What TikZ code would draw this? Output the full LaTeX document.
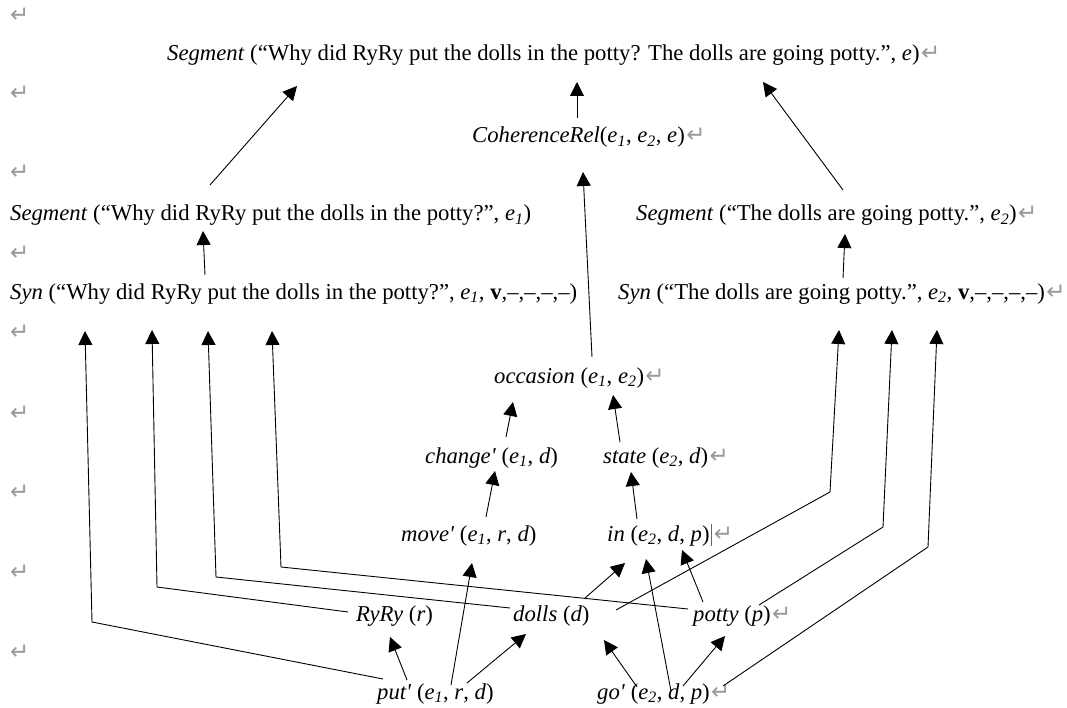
\documentclass[tikz,border=0pt]{standalone}
\usepackage{fontspec}
\setmainfont{Liberation Serif}
\newfontfamily\djv{DejaVu Sans}
\usetikzlibrary{arrows.meta,calc}
\newcommand\ei[1]{\textit{e}\textsubscript{\textit{#1}}}
\newcommand\pr{\textquotesingle}
\begin{document}
\begin{tikzpicture}[x=1pt,y=-1pt,
  lbl/.style={inner sep=0pt, anchor=base west, font=\fontsize{22.7}{26}\selectfont},
  arr/.style={-{Triangle[width=14pt,length=14pt]}, line width=0.9pt},
  pm/.style={inner sep=0pt, anchor=base west, text=black!40, font=\djv\fontsize{23}{23}\selectfont}]
\useasboundingbox[fill=white] (0,0) rectangle (1067,708);
% texts
\node[lbl] (top) at (167,61) {\textit{Segment} (“Why did RyRy put the dolls in the potty? The dolls are going potty.”, \textit{e})};
\node[lbl] (coh) at (472,143) {\textit{CoherenceRel}(\ei1, \ei2, \textit{e})};
\node[lbl] (seg1) at (10,221) {\textit{Segment} (“Why did RyRy put the dolls in the potty?”, \ei1)};
\node[lbl] (seg2) at (636,221) {\textit{Segment} (“The dolls are going potty.”, \ei2)};
\node[lbl] (syn1) at (10,299) {\textit{Syn} (“Why did RyRy put the dolls in the potty?”, \ei1\textit{,} \textbf{v},–,–,–,–)};
\node[lbl] (syn2) at (618,299) {\textit{Syn} (“The dolls are going potty.”, \ei2\textit{,} \textbf{v},–,–,–,–)};
\node[lbl] (occ) at (494,383) {\textit{occasion} (\ei1, \ei2)};
\node[lbl] (chg) at (425,463) {\textit{change\pr} (\ei1, \textit{d})};
\node[lbl] (st) at (603,463) {\textit{state} (\ei2, \textit{d})};
\node[lbl] (mv) at (401,541) {\textit{move\pr} (\ei1, \textit{r}, \textit{d})};
\node[lbl] (inn) at (607,541) {\textit{in} (\ei2, \textit{d}, \textit{p})};
\node[lbl] (ry) at (356,621) {\textit{RyRy} (\textit{r})};
\node[lbl] (dl) at (513,621) {\textit{dolls} (\textit{d})};
\node[lbl] (pt) at (693,621) {\textit{potty} (\textit{p})};
\node[lbl] (put) at (377,699) {\textit{put\pr} (\ei1, \textit{r}, \textit{d})};
\node[lbl] (go) at (597,699) {\textit{go\pr} (\ei2, \textit{d}, \textit{p})};
% paragraph marks
\foreach \n in {top,coh,seg2,syn2,occ,st,pt,go}
  \node[pm] (pm-\n) at ($(\n.base east)+(1,0)$) {↵};
\draw[black!60, line width=0.7pt] ($(inn.base east)+(2,5)$) coordinate (cur) -- ++(0,-22);
\node[pm] (pm-inn) at ($(inn.base east)+(4,0)$) {↵};
\foreach \y [count=\i] in {17,95,174,255,333,414,493,573,653}
  \node[pm] (lp\i) at (10,\y+6) {↵};
% straight arrows
\draw[arr] ($(seg1.base west)+(200,-36)$) -- ($(top.base west)+(130,25)$);
\draw[arr] ($(coh.base west)+(105,-25)$) -- ($(top.base west)+(410,21)$);
\draw[arr] ($(seg2.base west)+(207,-31)$) -- ($(top.base west)+(596,21)$);
\draw[arr] ($(syn1.base west)+(195,-24)$) -- ($(seg1.base west)+(193,10)$);
\draw[arr] ($(syn2.base west)+(225,-21)$) -- ($(seg2.base west)+(209,13)$);
\draw[arr] ($(occ.base west)+(98,-26)$) -- ($(coh.base west)+(111,29)$);
\draw[arr] ($(chg.base west)+(81,-26)$) -- ($(occ.base west)+(19,19)$);
\draw[arr] ($(st.base west)+(17,-21)$) -- ($(occ.base west)+(119,12)$);
\draw[arr] ($(mv.base west)+(85,-24)$) -- ($(chg.base west)+(70,8)$);
\draw[arr] ($(inn.base west)+(30,-22)$) -- ($(st.base west)+(28,9)$);
\draw[arr] ($(put.base west)+(30,-19)$) -- ($(ry.base west)+(34,16)$);
\draw[arr] ($(put.base west)+(74,-14)$) -- ($(mv.base west)+(71,22)$);
\draw[arr] ($(put.base west)+(90,-16)$) -- ($(dl.base west)+(13,13)$);
\draw[arr] ($(go.base west)+(40,-12)$) -- ($(dl.base west)+(91,19)$);
\draw[arr] ($(go.base west)+(74,-8)$) -- ($(inn.base west)+(39,18)$);
\draw[arr] ($(go.base west)+(86,-13)$) -- ($(pt.base west)+(32,15)$);
\draw[arr] ($(dl.base west)+(72,-23)$) -- ($(inn.base west)+(18,22)$);
\draw[arr] ($(pt.base west)+(10,-19)$) -- ($(inn.base west)+(75,9)$);
% elbow connectors
\coordinate (ka) at (92,622);
\coordinate (kb) at (157,587);
\coordinate (kc) at (216,577);
\coordinate (kd) at (281,567);
\coordinate (ke) at (830,492);
\coordinate (kf) at (883,527);
\coordinate (kg) at (928,547);
\draw[arr] ($(put.base west)+(6,-20)$) -- (ka) -- ($(syn1.base west)+(75,32)$);
\draw[arr] ($(ry.base west)+(-8,-9)$) -- (kb) -- ($(syn1.base west)+(142,31)$);
\draw[arr] ($(dl.base west)+(-3,-13)$) -- (kc) -- ($(syn1.base west)+(198,32)$);
\draw[arr] ($(pt.base west)+(-5,-12)$) -- (kd) -- ($(syn1.base west)+(262,32)$);
\draw[arr] ($(dl.base west)+(103,-11)$) -- (ke) -- ($(syn2.base west)+(221,31)$);
\draw[arr] ($(pt.base west)+(66,-16)$) -- (kf) -- ($(syn2.base west)+(274,31)$);
\draw[arr] ($(go.base west)+(126,-13)$) -- (kg) -- ($(syn2.base west)+(319,31)$);
\end{tikzpicture}
\end{document}
